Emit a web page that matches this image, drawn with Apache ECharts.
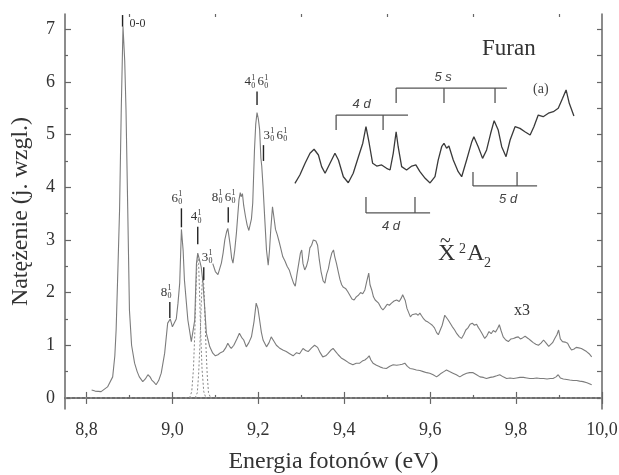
<!DOCTYPE html>
<html>
<head>
<meta charset="utf-8">
<script src="https://cdn.jsdelivr.net/npm/echarts@6/dist/echarts.min.js"></script>
<style>
  html, body { margin: 0; padding: 0; background: #fff; }
  #chart { width: 619px; height: 475px; }
</style>
</head>
<body>
<div id="chart"></div>
<script>
// Axis ticks (eV on x, relative intensity on y)
const xMajorTicks = [8.8, 9.0, 9.2, 9.4, 9.6, 9.8, 10.0];
const xMinorTicks = [8.9, 9.1, 9.3, 9.5, 9.7, 9.9];
const yMajorTicks = [0, 1, 2, 3, 4, 5, 6, 7];
const yMinorTicks = [0.5, 1.5, 2.5, 3.5, 4.5, 5.5, 6.5];
const yRightTicks = [0, 0.5, 1, 1.5, 2, 2.5, 3, 3.5, 4, 4.5, 5, 5.5, 6, 6.5, 7];

// Photoabsorption spectrum of furan, X~ 2A2 band: [energy eV, intensity]
const spectrum = [
  [8.812,0.15],[8.820,0.13],[8.834,0.12],[8.849,0.21],[8.861,0.40],[8.866,0.80],[8.869,1.29],
  [8.873,2.40],[8.877,3.57],[8.881,5.50],[8.885,7.05],[8.889,6.40],[8.892,5.47],[8.896,3.60],
  [8.900,1.67],[8.905,1.00],[8.912,0.66],[8.918,0.50],[8.923,0.40],[8.931,0.31],[8.937,0.36],
  [8.943,0.44],[8.948,0.40],[8.952,0.34],[8.957,0.30],[8.962,0.25],[8.968,0.33],[8.974,0.47],
  [8.982,0.85],[8.989,1.42],[8.995,1.50],[9.000,1.35],[9.004,1.38],[9.009,1.50],[9.013,1.80],
  [9.017,2.18],[9.021,3.20],[9.025,2.80],[9.028,2.24],[9.036,1.48],[9.044,1.07],[9.048,1.04],
  [9.052,1.48],[9.056,2.55],[9.059,2.75],[9.063,2.62],[9.067,2.49],[9.071,2.20],[9.075,1.73],
  [9.079,1.23],[9.087,0.97],[9.094,0.85],[9.100,0.80],[9.106,0.82],[9.112,0.86],[9.118,0.88],
  [9.124,0.95],[9.129,1.04],[9.133,0.98],[9.137,0.94],[9.143,1.00],[9.150,1.12],[9.156,1.23],
  [9.161,1.15],[9.166,1.10],[9.172,0.97],[9.178,1.05],[9.184,1.16],[9.190,1.45],[9.195,1.80],
  [9.199,1.70],[9.203,1.48],[9.207,1.25],[9.211,1.10],[9.219,0.97],[9.225,1.05],[9.230,1.16],
  [9.236,1.08],[9.242,1.00],[9.249,0.95],[9.257,0.91],[9.265,0.88],[9.273,0.84],[9.281,0.80],
  [9.289,0.86],[9.296,0.84],[9.304,0.94],[9.310,0.90],[9.316,0.88],[9.324,0.95],[9.331,1.00],
  [9.338,0.96],[9.344,0.86],[9.350,0.78],[9.357,0.80],[9.362,0.84],[9.368,0.90],[9.374,0.94],
  [9.380,0.88],[9.386,0.82],[9.393,0.76],[9.401,0.72],[9.410,0.67],[9.420,0.63],[9.428,0.66],
  [9.436,0.66],[9.442,0.70],[9.448,0.72],[9.454,0.76],[9.458,0.80],[9.462,0.72],[9.467,0.66],
  [9.475,0.62],[9.483,0.59],[9.490,0.57],[9.498,0.56],[9.506,0.60],[9.514,0.63],[9.522,0.62],
  [9.529,0.63],[9.535,0.64],[9.541,0.66],[9.547,0.60],[9.553,0.56],[9.560,0.55],[9.568,0.53],
  [9.576,0.52],[9.584,0.50],[9.592,0.48],[9.599,0.47],[9.607,0.44],[9.615,0.40],[9.620,0.43],
  [9.626,0.47],[9.632,0.50],[9.638,0.53],[9.645,0.50],[9.653,0.47],[9.661,0.44],[9.669,0.40],
  [9.677,0.44],[9.685,0.47],[9.692,0.48],[9.700,0.48],[9.708,0.44],[9.716,0.40],[9.724,0.39],
  [9.731,0.37],[9.740,0.39],[9.747,0.40],[9.755,0.42],[9.762,0.44],[9.770,0.40],[9.778,0.37],
  [9.786,0.38],[9.794,0.37],[9.801,0.38],[9.809,0.39],[9.817,0.39],[9.825,0.38],[9.832,0.37],
  [9.840,0.37],[9.848,0.38],[9.856,0.37],[9.864,0.37],[9.872,0.36],[9.880,0.37],[9.886,0.37],
  [9.893,0.40],[9.898,0.44],[9.903,0.38],[9.910,0.36],[9.918,0.35],[9.925,0.34],[9.933,0.33],
  [9.941,0.33],[9.948,0.32],[9.956,0.31],[9.965,0.29],[9.976,0.25]
];

// Same band above 9.09 eV, intensity multiplied by 3
const spectrumX3 = [
  [9.094,2.55],[9.100,2.40],[9.106,2.34],[9.110,2.45],[9.114,2.56],[9.118,2.75],[9.122,3.00],
  [9.126,3.15],[9.129,3.22],[9.132,3.05],[9.135,2.87],[9.138,2.65],[9.141,2.56],[9.145,2.80],
  [9.149,3.13],[9.152,3.45],[9.155,3.76],[9.158,3.90],[9.160,3.82],[9.163,3.88],[9.166,3.65],
  [9.170,3.45],[9.174,3.28],[9.178,3.18],[9.181,3.20],[9.184,3.40],[9.187,3.70],[9.191,4.70],
  [9.194,5.20],[9.197,5.42],[9.200,5.30],[9.203,5.10],[9.206,4.55],[9.208,4.40],[9.211,4.01],
  [9.215,3.40],[9.219,2.81],[9.223,2.52],[9.226,2.80],[9.229,3.20],[9.233,3.63],[9.236,3.45],
  [9.240,3.20],[9.244,3.10],[9.248,2.98],[9.252,2.85],[9.257,2.68],[9.262,2.60],[9.267,2.50],
  [9.272,2.43],[9.277,2.30],[9.282,2.18],[9.286,2.12],[9.290,2.35],[9.294,2.55],[9.298,2.75],
  [9.301,2.81],[9.304,2.55],[9.308,2.43],[9.312,2.50],[9.316,2.62],[9.320,2.85],[9.324,2.90],
  [9.328,3.00],[9.331,3.03],[9.334,2.98],[9.338,2.90],[9.342,2.62],[9.346,2.40],[9.351,2.22],
  [9.355,2.18],[9.359,2.35],[9.363,2.45],[9.367,2.62],[9.371,2.75],[9.375,2.81],[9.378,2.68],
  [9.382,2.55],[9.386,2.40],[9.390,2.25],[9.394,2.15],[9.398,2.10],[9.403,2.08],[9.408,2.02],
  [9.413,1.95],[9.418,1.88],[9.423,1.86],[9.428,1.92],[9.433,1.95],[9.438,2.00],[9.443,1.98],
  [9.448,2.05],[9.452,2.20],[9.457,2.37],[9.460,2.15],[9.464,2.05],[9.468,1.92],[9.472,1.86],
  [9.476,1.88],[9.480,1.80],[9.485,1.72],[9.490,1.67],[9.495,1.72],[9.500,1.78],[9.505,1.76],
  [9.510,1.80],[9.516,1.84],[9.522,1.86],[9.528,1.83],[9.533,1.90],[9.536,1.96],[9.539,1.99],
  [9.542,1.85],[9.546,1.70],[9.550,1.62],[9.554,1.54],[9.558,1.58],[9.562,1.55],[9.567,1.60],
  [9.572,1.57],[9.576,1.61],[9.580,1.56],[9.585,1.50],[9.590,1.46],[9.595,1.44],[9.600,1.41],
  [9.605,1.38],[9.610,1.33],[9.615,1.24],[9.619,1.20],[9.623,1.28],[9.628,1.38],[9.634,1.57],
  [9.638,1.55],[9.642,1.48],[9.646,1.45],[9.651,1.36],[9.657,1.29],[9.662,1.22],[9.668,1.16],
  [9.673,1.13],[9.678,1.20],[9.683,1.29],[9.688,1.33],[9.693,1.40],[9.698,1.42],[9.703,1.38],
  [9.708,1.40],[9.712,1.34],[9.716,1.29],[9.721,1.22],[9.727,1.13],[9.732,1.18],[9.737,1.26],
  [9.742,1.22],[9.747,1.28],[9.752,1.25],[9.757,1.32],[9.761,1.39],[9.765,1.28],[9.770,1.16],
  [9.776,1.10],[9.782,1.07],[9.788,1.12],[9.794,1.13],[9.800,1.15],[9.805,1.16],[9.810,1.12],
  [9.815,1.14],[9.821,1.17],[9.828,1.13],[9.834,1.09],[9.840,1.05],[9.846,1.02],[9.852,1.00],
  [9.858,1.04],[9.864,1.10],[9.870,1.04],[9.876,0.98],[9.880,0.97],[9.885,1.05],[9.890,1.13],
  [9.895,1.20],[9.899,1.29],[9.903,1.12],[9.908,1.07],[9.914,1.06],[9.920,1.04],[9.925,0.96],
  [9.929,0.91],[9.935,0.93],[9.940,0.96],[9.946,0.95],[9.952,0.94],[9.958,0.91],[9.964,0.88],
  [9.970,0.84],[9.976,0.78]
];

// Fitted components of the 4^1_0 / 3^1_0 pair
const componentA = [
  [9.040,0],[9.045,0.12],[9.049,0.55],[9.052,1.20],[9.055,2.05],[9.057,2.55],[9.059,2.72],
  [9.061,2.55],[9.063,2.05],[9.066,1.20],[9.069,0.55],[9.073,0.12],[9.078,0]
];
const componentB = [
  [9.053,0],[9.058,0.10],[9.061,0.45],[9.064,1.00],[9.067,1.75],[9.069,2.15],[9.071,2.30],
  [9.073,2.15],[9.075,1.75],[9.078,1.00],[9.081,0.45],[9.084,0.10],[9.089,0]
];
const baseline = [[8.75, 0], [10.0, 0]];

// Vibrational assignments: tick energy, tick top / bottom intensity, label
const peakEnergy = [8.884, 8.994, 9.021, 9.059, 9.073, 9.130, 9.197, 9.212];
const peakTickTop = [7.27, 1.82, 3.60, 3.25, 2.48, 3.62, 5.82, 4.80];
const peakTickBottom = [7.05, 1.52, 3.24, 2.92, 2.24, 3.33, 5.56, 4.50];
const peakLabels = ['0-0', '8^1_0', '6^1_0', '4^1_0', '3^1_0', '8^1_0 6^1_0', '4^1_0 6^1_0', '3^1_0 6^1_0'];

// Inset: Rydberg region (relative units)
const insetTrace = [
  [1.7,13.9],[3.4,20.8],[5.2,30.6],[6.9,38.9],[8.3,42.3],[9.8,37.5],[10.9,27.8],[12.1,22.3],
  [13.8,30.6],[15.5,38.9],[16.7,33.3],[18.4,19.4],[20.1,14.4],[21.8,22.3],[23.6,36.1],[25.1,47.3],
  [26.2,61.1],[27.3,47.3],[28.5,30.6],[29.9,28.3],[31.6,29.2],[33.3,26.4],[34.5,25.0],[35.6,38.9],
  [36.6,56.9],[37.3,44.4],[38.5,27.8],[40.2,25.0],[42.0,28.3],[43.4,29.2],[44.8,23.6],[46.6,18.1],
  [48.3,14.2],[50.0,19.4],[51.1,33.3],[52.3,44.4],[53.1,47.3],[54.0,43.1],[54.8,45.0],[56.3,33.3],
  [58.0,23.6],[59.2,19.4],[60.9,33.3],[62.7,48.6],[63.4,52.8],[64.9,44.4],[66.4,34.7],[67.8,41.7],
  [69.2,55.6],[70.4,66.1],[71.8,58.3],[73.0,44.4],[74.5,36.1],[75.9,50.0],[77.6,61.1],[79.3,59.7],
  [81.0,56.9],[82.8,54.2],[84.1,61.1],[85.6,70.8],[87.3,69.4],[89.1,72.3],[90.8,73.6],[92.5,76.4],
  [94.0,84.7],[95.2,91.7],[96.3,80.6],[97.9,70.0]
];
// Rydberg series progressions in the inset
const bracketLabels = ['4 d', '5 s', '4 d', '5 d'];
const bracketStart = [15.9, 36.6, 26.2, 63.1];
const bracketEnd = [40.7, 74.8, 48.3, 85.2];
const bracketLevel = [70.8, 93.3, -10.8, 11.7];
const bracketTickEnd = [58.3, 80.8, 2.5, 23.3];
const bracketTicks = [[15.9, 32.1], [36.6, 53.1, 70.7], [26.2, 43.1], [63.1, 78.3]];
const bracketLabelAt = [24.7, 52.8, 34.8, 75.2];

const SERIF = '"Liberation Serif", "DejaVu Serif", serif';
const INK = '#333';
const AXIS = '#666';
const fmt = v => v.toFixed(1).replace('.', ',');

// label placement for assignments: [mode, dx]
const peakPlacement = [
  ['right', 7], ['above', -3], ['above', -4], ['above', -1],
  ['above', 4], ['above', -4], ['above', 0], ['left', 0]
];

function termWidth() { return 12; }

function buildLabel(text, x0, yc) {
  const out = [];
  if (text.indexOf('^') < 0) {
    out.push({ type: 'text', style: { text, x: x0, y: yc, fill: INK, font: '12px ' + SERIF,
      align: 'left', verticalAlign: 'middle', textAlign: 'left', textVerticalAlign: 'middle' } });
    return out;
  }
  const terms = text.split(' ');
  let x = x0;
  terms.forEach(t => {
    const base = t.split('^')[0];
    const sup = t.split('^')[1].split('_')[0];
    const sub = t.split('_')[1];
    const mk = (s, xx, yy, size) => ({ type: 'text', style: { text: s, x: xx, y: yy, fill: INK,
      font: size + 'px ' + SERIF, align: 'left', verticalAlign: 'middle',
      textAlign: 'left', textVerticalAlign: 'middle' } });
    out.push(mk(base, x, yc, 13));
    out.push(mk(sup, x + 6.8, yc - 4, 8));
    out.push(mk(sub, x + 6.8, yc + 4, 8));
    x += termWidth() + 1;
  });
  return out;
}

function labelWidth(text) {
  if (text.indexOf('^') < 0) return 18;
  const n = text.split(' ').length;
  return n * termWidth() + (n - 1);
}

function renderPeak(params, api) {
  const i = params.dataIndex;
  const top = api.coord([api.value(0), api.value(1)]);
  const bot = api.coord([api.value(0), api.value(2)]);
  const children = [{
    type: 'line', shape: { x1: top[0], y1: top[1], x2: bot[0], y2: bot[1] },
    style: { stroke: '#222', lineWidth: 1.4 }
  }];
  const text = peakLabels[i];
  const mode = peakPlacement[i][0], dx = peakPlacement[i][1];
  const w = labelWidth(text);
  let x0, yc;
  if (mode === 'right') { x0 = top[0] + dx; yc = top[1] + 9; }
  else if (mode === 'left') { x0 = top[0] + dx; yc = top[1] - 10; }
  else { x0 = top[0] - w / 2 + dx; yc = top[1] - 10; }
  return { type: 'group', children: children.concat(buildLabel(text, x0, yc)) };
}

function renderBracket(params, api) {
  const i = params.dataIndex;
  const a = api.coord([bracketStart[i], bracketLevel[i]]);
  const b = api.coord([bracketEnd[i], bracketLevel[i]]);
  const children = [{
    type: 'line', shape: { x1: a[0], y1: a[1], x2: b[0], y2: b[1] },
    style: { stroke: '#555', lineWidth: 1.3 }
  }];
  bracketTicks[i].forEach(t => {
    const p = api.coord([t, bracketLevel[i]]);
    const q = api.coord([t, bracketTickEnd[i]]);
    children.push({ type: 'line', shape: { x1: p[0], y1: p[1], x2: q[0], y2: q[1] },
      style: { stroke: '#555', lineWidth: 1.3 } });
  });
  const upper = bracketTickEnd[i] < bracketLevel[i];
  const lp = api.coord([bracketLabelAt[i], bracketLevel[i]]);
  children.push({ type: 'text', style: {
    text: bracketLabels[i], x: lp[0], y: lp[1] + (upper ? -11 : 13), fill: '#444',
    font: 'italic 13px "Liberation Sans", "DejaVu Sans", sans-serif', align: 'center', verticalAlign: 'middle',
    textAlign: 'center', textVerticalAlign: 'middle' } });
  return { type: 'group', children };
}

const hiddenAxis = { show: true, axisLine: { show: false }, axisLabel: { show: false }, splitLine: { show: false } };

const chart = echarts.init(document.getElementById('chart'), null, { renderer: 'canvas' });
chart.setOption({
  animation: false,
  backgroundColor: '#fff',
  grid: [
    { left: 65, top: 14, width: 537, height: 395, outerBoundsMode: 'none', containLabel: false },
    { left: 290, top: 68, width: 290, height: 168, outerBoundsMode: 'none', containLabel: false }
  ],
  xAxis: [
    { type: 'value', gridIndex: 0, position: 'bottom', min: 8.75, max: 10.0,
      name: 'Energia fotonów (eV)', nameLocation: 'middle', nameGap: 41,
      nameTextStyle: { fontFamily: SERIF, fontSize: 24, color: INK },
      axisLine: { show: true, lineStyle: { color: AXIS, width: 1.5 } },
      axisTick: { show: true, inside: true, length: 6, customValues: xMajorTicks, lineStyle: { color: AXIS, width: 1.2 } },
      axisLabel: { show: true, customValues: xMajorTicks, formatter: fmt, margin: 12,
        fontFamily: SERIF, fontSize: 18, color: INK },
      splitLine: { show: false } },
    Object.assign({}, hiddenAxis, { type: 'value', gridIndex: 0, position: 'bottom', min: 8.75, max: 10.0,
      axisTick: { show: true, inside: true, length: 3, customValues: xMinorTicks, lineStyle: { color: AXIS, width: 1.2 } } }),
    { type: 'value', gridIndex: 0, position: 'top', min: 8.75, max: 10.0,
      axisLine: { show: true, lineStyle: { color: AXIS, width: 1.5 } },
      axisTick: { show: true, inside: true, length: 6, customValues: xMajorTicks, lineStyle: { color: AXIS, width: 1.2 } },
      axisLabel: { show: false }, splitLine: { show: false } },
    Object.assign({}, hiddenAxis, { type: 'value', gridIndex: 0, position: 'top', min: 8.75, max: 10.0,
      axisTick: { show: true, inside: true, length: 3, customValues: xMinorTicks, lineStyle: { color: AXIS, width: 1.2 } } }),
    { type: 'value', gridIndex: 1, min: 0, max: 100, show: false }
  ],
  yAxis: [
    { type: 'value', gridIndex: 0, position: 'left', min: -0.21, max: 7.29,
      name: 'Natężenie (j. wzgl.)', nameLocation: 'middle', nameGap: 32,
      nameTextStyle: { fontFamily: SERIF, fontSize: 24, color: INK },
      axisLine: { show: true, lineStyle: { color: AXIS, width: 1.5 } },
      axisTick: { show: true, inside: true, length: 6, customValues: yMajorTicks, lineStyle: { color: AXIS, width: 1.2 } },
      axisLabel: { show: true, customValues: yMajorTicks, margin: 10, fontFamily: SERIF, fontSize: 18, color: INK },
      splitLine: { show: false } },
    Object.assign({}, hiddenAxis, { type: 'value', gridIndex: 0, position: 'left', min: -0.21, max: 7.29,
      axisTick: { show: true, inside: true, length: 3, customValues: yMinorTicks, lineStyle: { color: AXIS, width: 1.2 } } }),
    { type: 'value', gridIndex: 0, position: 'right', min: -0.21, max: 7.29,
      axisLine: { show: true, lineStyle: { color: AXIS, width: 1.5 } },
      axisTick: { show: true, inside: true, length: 5, customValues: yRightTicks, lineStyle: { color: AXIS, width: 1.2 } },
      axisLabel: { show: false }, splitLine: { show: false } },
    { type: 'value', gridIndex: 1, min: -30, max: 110, show: false }
  ],
  series: [
    { type: 'line', data: baseline, xAxisIndex: 0, yAxisIndex: 0, symbol: 'none', silent: true,
      lineStyle: { color: '#999', width: 1, type: [2, 3] } },
    { type: 'line', data: componentA, xAxisIndex: 0, yAxisIndex: 0, symbol: 'none', silent: true,
      lineStyle: { color: '#888', width: 1, type: [2, 2] } },
    { type: 'line', data: componentB, xAxisIndex: 0, yAxisIndex: 0, symbol: 'none', silent: true,
      lineStyle: { color: '#888', width: 1, type: [2, 2] } },
    { type: 'line', data: spectrum, xAxisIndex: 0, yAxisIndex: 0, symbol: 'none', silent: true,
      lineStyle: { color: '#7c7c7c', width: 1.1 } },
    { type: 'line', data: spectrumX3, xAxisIndex: 0, yAxisIndex: 0, symbol: 'none', silent: true,
      lineStyle: { color: '#7c7c7c', width: 1.1 } },
    { type: 'custom', xAxisIndex: 0, yAxisIndex: 0, silent: true, renderItem: renderPeak,
      data: peakEnergy.map((e, i) => [e, peakTickTop[i], peakTickBottom[i]]), z: 5 },
    { type: 'line', data: insetTrace, xAxisIndex: 4, yAxisIndex: 3, symbol: 'none', silent: true,
      lineStyle: { color: '#3a3a3a', width: 1.3 } },
    { type: 'custom', xAxisIndex: 4, yAxisIndex: 3, silent: true, renderItem: renderBracket,
      data: bracketLabels.map((l, i) => [bracketStart[i], bracketLevel[i]]), z: 5 }
  ],
  graphic: [
    { type: 'text', left: 482, top: 37, style: { text: 'Furan', font: '23px ' + SERIF, fill: INK } },
    { type: 'text', left: 533, top: 82, style: { text: '(a)', font: '14px ' + SERIF, fill: '#444' } },
    { type: 'text', left: 514, top: 303, style: { text: 'x3', font: '16px ' + SERIF, fill: INK } },
    { type: 'group', left: 438, top: 232, children: [
      { type: 'text', x: 2, y: 0, style: { text: '~', font: '20px ' + SERIF, fill: INK } },
      { type: 'text', x: 0, y: 10, style: { text: 'X', font: '24px ' + SERIF, fill: INK } },
      { type: 'text', x: 21, y: 10, style: { text: '2', font: '14px ' + SERIF, fill: INK } },
      { type: 'text', x: 29, y: 10, style: { text: 'A', font: '24px ' + SERIF, fill: INK } },
      { type: 'text', x: 46, y: 24, style: { text: '2', font: '14px ' + SERIF, fill: INK } }
    ] }
  ]
});
</script>
</body>
</html>
